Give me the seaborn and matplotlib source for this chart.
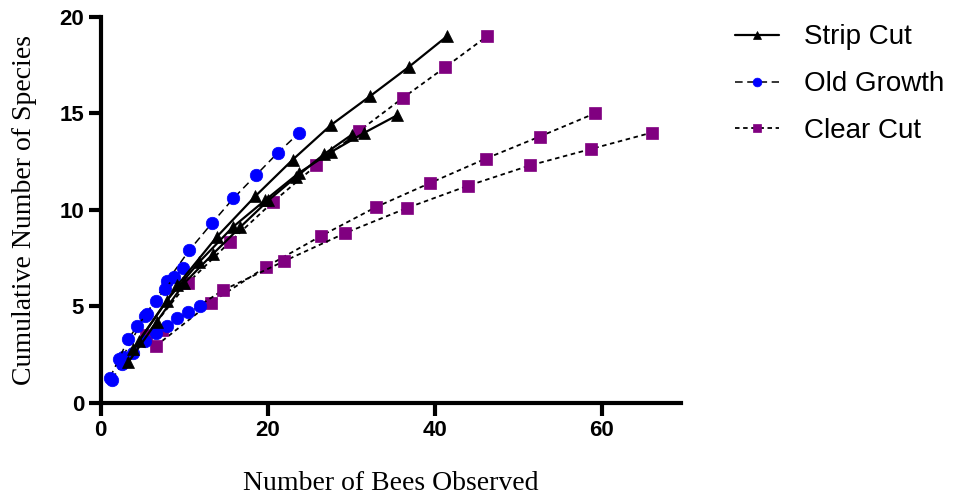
import matplotlib
matplotlib.use("Agg")
import matplotlib.pyplot as plt
import seaborn as sns
import pandas as pd

# rarefaction curves
strip_a_x = [4.6, 9.2, 13.9, 18.5, 23.0, 27.6, 32.3, 36.9, 41.5]
strip_a_y = [3.2, 6.1, 8.6, 10.7, 12.6, 14.4, 15.9, 17.4, 19.0]
strip_b_x = [3.9, 7.9, 11.8, 15.8, 19.7, 23.7, 27.6, 31.6, 35.5]
strip_b_y = [2.8, 5.3, 7.3, 9.1, 10.5, 11.9, 13.0, 14.0, 14.9]
strip_c_x = [3.3, 6.7, 10.0, 13.4, 16.7, 20.1, 23.4, 26.8, 30.1]
strip_c_y = [2.1, 4.2, 6.2, 7.7, 9.1, 10.5, 11.7, 12.9, 13.9]

old_a_x = [2.65, 5.3, 7.95, 10.6, 13.3, 15.9, 18.6, 21.2, 23.8]
old_a_y = [2.4, 4.5, 6.3, 7.9, 9.3, 10.6, 11.8, 12.95, 14.0]
old_b_x = [1.3, 2.6, 3.9, 5.3, 6.6, 7.9, 9.2, 10.5, 11.9]
old_b_y = [1.2, 2.0, 2.6, 3.2, 3.6, 4.0, 4.4, 4.7, 5.0]
old_c_x = [1.1, 2.2, 3.3, 4.4, 5.5, 6.6, 7.7, 8.8, 9.9]
old_c_y = [1.3, 2.3, 3.3, 4.0, 4.6, 5.3, 5.9, 6.5, 7.0]

clear_a_x = [5.4, 10.4, 15.5, 20.6, 25.8, 31.0, 36.2, 41.3, 46.3]
clear_a_y = [3.5, 6.2, 8.35, 10.4, 12.3, 14.1, 15.8, 17.4, 19.0]
clear_b_x = [6.6, 13.2, 19.8, 26.4, 33.0, 39.5, 46.1, 52.6, 59.2]
clear_b_y = [2.95, 5.2, 7.05, 8.65, 10.15, 11.4, 12.65, 13.8, 15.0]
clear_c_x = [7.3, 14.7, 22.0, 29.3, 36.7, 44.0, 51.4, 58.7, 66.0]
clear_c_y = [3.8, 5.85, 7.35, 8.8, 10.1, 11.25, 12.3, 13.15, 14.0]

groups = ["Strip Cut", "Old Growth", "Clear Cut"]
curves = {
    "Strip Cut": [(strip_a_x, strip_a_y), (strip_b_x, strip_b_y), (strip_c_x, strip_c_y)],
    "Old Growth": [(old_a_x, old_a_y), (old_b_x, old_b_y), (old_c_x, old_c_y)],
    "Clear Cut": [(clear_a_x, clear_a_y), (clear_b_x, clear_b_y), (clear_c_x, clear_c_y)],
}

rows = []
for g in groups:
    for i, (xs, ys) in enumerate(curves[g]):
        for x, y in zip(xs, ys):
            rows.append({"bees": x, "species": y, "site": g, "curve": f"{g}{i}"})
df = pd.DataFrame(rows)

style = {
    "Strip Cut": dict(marker="^", mfc="black", ms=9, ls="-", lw=1.6),
    "Old Growth": dict(marker="o", mfc="#0000ff", ms=9, ls=(0, (5, 3)), lw=1.1),
    "Clear Cut": dict(marker="s", mfc="#800080", ms=8.5, ls=(0, (2.5, 2)), lw=1.3),
}

sns.set_style("ticks", {"axes.edgecolor": "black", "text.color": "black",
                        "xtick.color": "black", "ytick.color": "black",
                        "axes.labelcolor": "black"})
fig = plt.figure(figsize=(9.59, 4.95), dpi=100)
ax = fig.add_axes([0.105, 0.186, 0.605, 0.780])

# draw clear cut first, strip cut on top like the original
for g in ["Clear Cut", "Old Growth", "Strip Cut"]:
    st = style[g]
    sub = df[df["site"] == g]
    for j, (cid, part) in enumerate(sub.groupby("curve", sort=True)):
        sns.lineplot(data=part, x="bees", y="species", ax=ax, estimator=None,
                     color="black", linestyle=st["ls"], linewidth=st["lw"],
                     marker=st["marker"], markersize=st["ms"],
                     markerfacecolor=st["mfc"], markeredgecolor=st["mfc"],
                     markeredgewidth=0.5,
                     label=g if j == 0 else None)

ax.set_xlim(0, 69.5)
ax.set_ylim(0, 20)
ax.set_xticks([0, 20, 40, 60])
ax.set_yticks([0, 5, 10, 15, 20])
for s in ["top", "right"]:
    ax.spines[s].set_visible(False)
for s in ["left", "bottom"]:
    ax.spines[s].set_linewidth(3)
ax.tick_params(width=3, length=9, labelsize=16, pad=3)
for lab in ax.get_xticklabels() + ax.get_yticklabels():
    lab.set_fontweight("bold")
    lab.set_family("Liberation Sans")

ax.set_xlabel("Number of Bees Observed", family="Liberation Serif", fontsize=20, labelpad=22)
ax.set_ylabel("Cumulative Number of Species", family="Liberation Serif", fontsize=20, labelpad=16)

handles, labels = ax.get_legend_handles_labels()
order = [labels.index(g) for g in groups]
ax.legend([handles[i] for i in order], [labels[i] for i in order],
          loc="upper left", bbox_to_anchor=(1.05, 1.045), frameon=False,
          prop={"family": "Liberation Sans", "size": 20}, handlelength=1.6,
          labelspacing=0.75, handletextpad=0.9, markerscale=0.7)

fig.savefig("out.png", dpi=100)
